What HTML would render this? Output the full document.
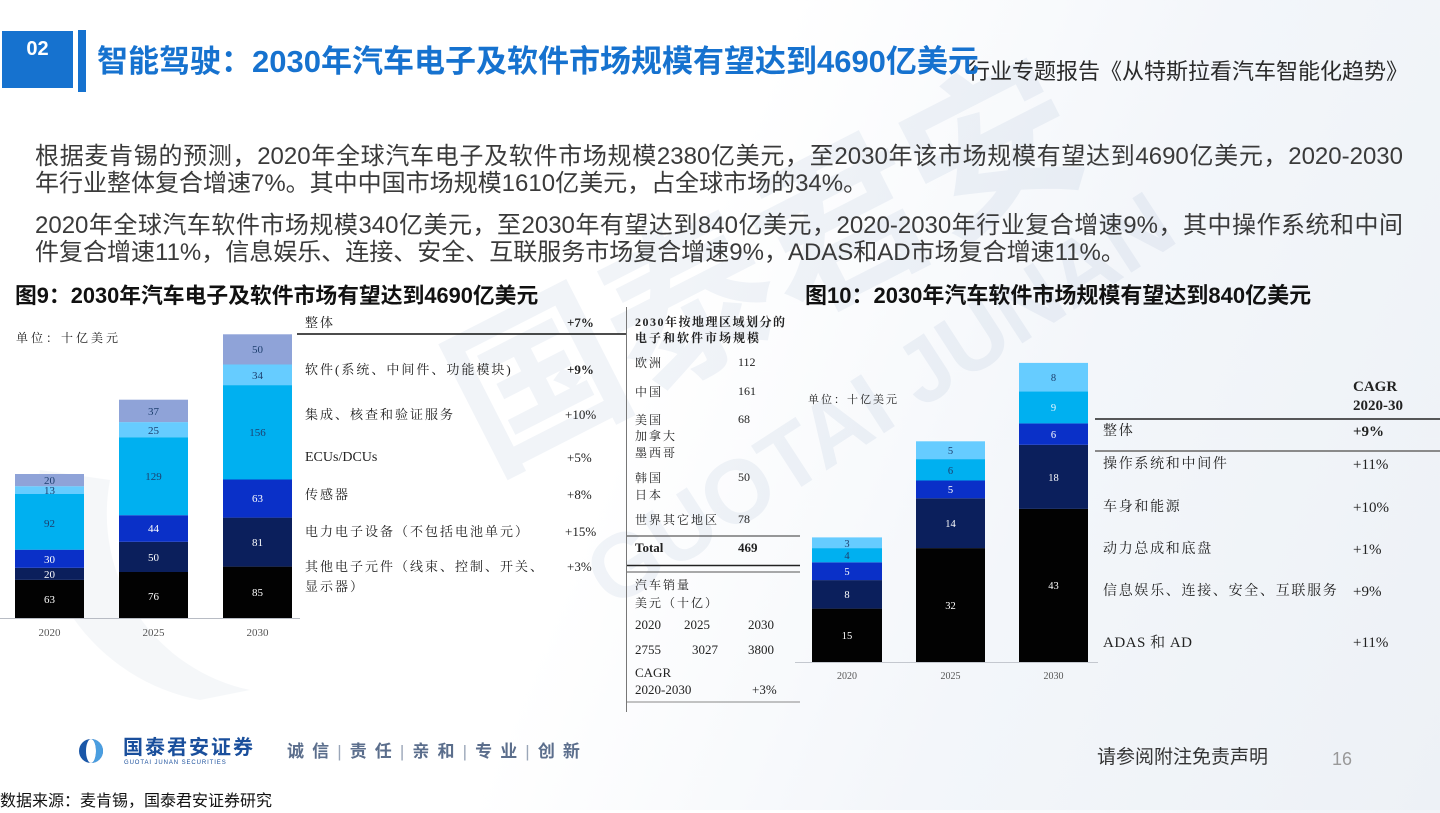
<!DOCTYPE html>
<html lang="zh-CN">
<head>
<meta charset="utf-8">
<style>
html,body{margin:0;padding:0;}
body{width:1440px;height:810px;position:relative;overflow:hidden;
 background:linear-gradient(112deg,#ffffff 0%,#ffffff 45%,#f3f6fa 70%,#edf1f6 100%);
 font-family:"Liberation Sans","Noto Sans CJK SC",sans-serif;}
.abs{position:absolute;white-space:nowrap;}
.sans{font-family:"Liberation Sans","Noto Sans CJK SC",sans-serif;}
.serif{font-family:"Liberation Serif","Noto Serif CJK SC",serif;}
.body{font-size:24px;color:#3a3a3a;line-height:28px;}
.full{width:1368px;text-align:justify;text-align-last:justify;}
.mt{font-size:13px;letter-spacing:2px;color:#222;line-height:16px;}
.gt{font-size:12px;letter-spacing:2px;color:#222;line-height:16px;}
.rt{font-size:14px;letter-spacing:1.7px;color:#222;line-height:18px;}
.num{font-family:"Liberation Serif",serif;letter-spacing:0;color:#222;}
</style>
</head>
<body>

<svg class="abs" style="left:0;top:0" width="1440" height="810" viewBox="0 0 1440 810">
 <!-- watermark -->
 <g fill="rgba(95,130,175,0.09)" font-family="Liberation Sans, Noto Sans CJK SC, sans-serif" font-weight="bold" text-anchor="middle">
  <text x="765" y="325" font-size="170" transform="rotate(-27 765 265)">国泰君安</text>
  <text x="880" y="430" font-size="90" transform="rotate(-33 880 400)">GUOTAI JUNAN</text>
 </g>
 <path d="M40 470 A200 200 0 0 0 200 700 L250 690 A180 180 0 0 1 110 480 Z" fill="rgba(120,140,170,0.07)"/>

 <!-- header -->
 <rect x="2" y="31" width="71" height="57" fill="#1672cf"/>
 <rect x="78" y="30" width="8" height="62" fill="#1672cf"/>

 <!-- left chart axis -->
 <line x1="0" y1="618.5" x2="300" y2="618.5" stroke="#b8bcc4" stroke-width="1"/>
 <g>
  <rect x="15" y="579.9" width="69" height="38.1" fill="#020202"/>
  <rect x="15" y="567.8" width="69" height="12.1" fill="#0b1f5c"/>
  <rect x="15" y="549.7" width="69" height="18.1" fill="#0a30c8"/>
  <rect x="15" y="494" width="69" height="55.7" fill="#00b0f0"/>
  <rect x="15" y="486.2" width="69" height="7.8" fill="#66ccff"/>
  <rect x="15" y="474" width="69" height="12.2" fill="#8fa3d8"/>
 </g>
 <g>
  <rect x="119" y="572" width="69" height="46" fill="#020202"/>
  <rect x="119" y="541.8" width="69" height="30.2" fill="#0b1f5c"/>
  <rect x="119" y="515.2" width="69" height="26.6" fill="#0a30c8"/>
  <rect x="119" y="437.2" width="69" height="78" fill="#00b0f0"/>
  <rect x="119" y="422.1" width="69" height="15.1" fill="#66ccff"/>
  <rect x="119" y="399.7" width="69" height="22.4" fill="#8fa3d8"/>
 </g>
 <g>
  <rect x="223" y="566.6" width="69" height="51.4" fill="#020202"/>
  <rect x="223" y="517.6" width="69" height="49" fill="#0b1f5c"/>
  <rect x="223" y="479.5" width="69" height="38.1" fill="#0a30c8"/>
  <rect x="223" y="385.1" width="69" height="94.4" fill="#00b0f0"/>
  <rect x="223" y="364.5" width="69" height="20.6" fill="#66ccff"/>
  <rect x="223" y="334.3" width="69" height="30.2" fill="#8fa3d8"/>
 </g>
 <g font-family="Liberation Serif, serif" font-size="11" text-anchor="middle">
  <text x="49.5" y="603" fill="#fff">63</text>
  <text x="49.5" y="578" fill="#fff">20</text>
  <text x="49.5" y="563" fill="#fff">30</text>
  <text x="49.5" y="527" fill="#1d3f6e">92</text>
  <text x="49.5" y="494" fill="#1d3f6e">13</text>
  <text x="49.5" y="484" fill="#1d3f6e">20</text>
  <text x="153.5" y="600" fill="#fff">76</text>
  <text x="153.5" y="561" fill="#fff">50</text>
  <text x="153.5" y="532" fill="#fff">44</text>
  <text x="153.5" y="480" fill="#1d3f6e">129</text>
  <text x="153.5" y="434" fill="#1d3f6e">25</text>
  <text x="153.5" y="415" fill="#1d3f6e">37</text>
  <text x="257.5" y="596" fill="#fff">85</text>
  <text x="257.5" y="546" fill="#fff">81</text>
  <text x="257.5" y="502" fill="#fff">63</text>
  <text x="257.5" y="436" fill="#1d3f6e">156</text>
  <text x="257.5" y="379" fill="#1d3f6e">34</text>
  <text x="257.5" y="353" fill="#1d3f6e">50</text>
 </g>
 <g font-family="Liberation Serif, serif" font-size="11" fill="#555" text-anchor="middle">
  <text x="49.5" y="636">2020</text>
  <text x="153.5" y="636">2025</text>
  <text x="257.5" y="636">2030</text>
 </g>

 <!-- middle table lines -->
 <line x1="297" y1="334" x2="627" y2="334" stroke="#111" stroke-width="1.5"/>
 <line x1="626.5" y1="307" x2="626.5" y2="712" stroke="#777" stroke-width="1"/>
 <line x1="627" y1="536" x2="800" y2="536" stroke="#333" stroke-width="1"/>
 <line x1="627" y1="565.5" x2="800" y2="565.5" stroke="#222" stroke-width="1.5"/>
 <line x1="627" y1="572" x2="800" y2="572" stroke="#555" stroke-width="1"/>
 <line x1="627" y1="702" x2="800" y2="702" stroke="#888" stroke-width="1"/>

 <!-- right chart -->
 <line x1="795" y1="662.5" x2="1098" y2="662.5" stroke="#c4c8cf" stroke-width="1"/>
 <g>
  <rect x="812" y="608.6" width="70" height="53.4" fill="#020202"/>
  <rect x="812" y="580.1" width="70" height="28.5" fill="#0b1f5c"/>
  <rect x="812" y="562.3" width="70" height="17.8" fill="#0a30c8"/>
  <rect x="812" y="548.1" width="70" height="14.2" fill="#00b0f0"/>
  <rect x="812" y="537.4" width="70" height="10.7" fill="#66ccff"/>
 </g>
 <g>
  <rect x="916" y="548.1" width="69" height="113.9" fill="#020202"/>
  <rect x="916" y="498.3" width="69" height="49.8" fill="#0b1f5c"/>
  <rect x="916" y="480.5" width="69" height="17.8" fill="#0a30c8"/>
  <rect x="916" y="459.1" width="69" height="21.4" fill="#00b0f0"/>
  <rect x="916" y="441.3" width="69" height="17.8" fill="#66ccff"/>
 </g>
 <g>
  <rect x="1019" y="508.9" width="69" height="153.1" fill="#020202"/>
  <rect x="1019" y="444.8" width="69" height="64.1" fill="#0b1f5c"/>
  <rect x="1019" y="423.4" width="69" height="21.4" fill="#0a30c8"/>
  <rect x="1019" y="391.4" width="69" height="32" fill="#00b0f0"/>
  <rect x="1019" y="362.9" width="69" height="28.5" fill="#66ccff"/>
 </g>
 <g font-family="Liberation Serif, serif" font-size="10.5" text-anchor="middle">
  <text x="847" y="639" fill="#fff">15</text>
  <text x="847" y="598" fill="#fff">8</text>
  <text x="847" y="575" fill="#fff">5</text>
  <text x="847" y="559" fill="#1d3f6e">4</text>
  <text x="847" y="547" fill="#1d3f6e">3</text>
  <text x="950.5" y="609" fill="#fff">32</text>
  <text x="950.5" y="527" fill="#fff">14</text>
  <text x="950.5" y="493" fill="#fff">5</text>
  <text x="950.5" y="474" fill="#1d3f6e">6</text>
  <text x="950.5" y="454" fill="#1d3f6e">5</text>
  <text x="1053.5" y="589" fill="#fff">43</text>
  <text x="1053.5" y="481" fill="#fff">18</text>
  <text x="1053.5" y="438" fill="#fff">6</text>
  <text x="1053.5" y="411" fill="#e8f6ff">9</text>
  <text x="1053.5" y="381" fill="#1d3f6e">8</text>
 </g>
 <g font-family="Liberation Serif, serif" font-size="10" fill="#555" text-anchor="middle">
  <text x="847" y="679">2020</text>
  <text x="950.5" y="679">2025</text>
  <text x="1053.5" y="679">2030</text>
 </g>

 <!-- right table lines -->
 <line x1="1095" y1="419" x2="1440" y2="419" stroke="#222" stroke-width="1.5"/>
 <line x1="1095" y1="451" x2="1440" y2="451" stroke="#8a8a8a" stroke-width="2"/>

 <!-- footer logo -->
 <circle cx="91" cy="751" r="12" fill="#1a57a8"/>
 <ellipse cx="91" cy="751" rx="5" ry="12" fill="#ffffff"/>
 <path d="M91 739 A12 12 0 0 1 91 763 A5 12 0 0 0 91 739 Z" fill="#4a9ee0"/>
</svg>

<!-- header text -->
<div class="abs sans" style="left:2px;top:37px;width:71px;text-align:center;font-size:20px;font-weight:bold;color:#fff;line-height:24px;">02</div>
<div class="abs sans" style="left:968px;top:58px;font-size:22px;color:#2a2a2a;line-height:28px;">行业专题报告《从特斯拉看汽车智能化趋势》</div>
<div class="abs sans" style="left:97px;top:43px;font-size:31px;font-weight:bold;color:#1672cf;line-height:38px;">智能驾驶：2030年汽车电子及软件市场规模有望达到4690亿美元</div>

<!-- body text -->
<div class="abs sans body full" style="left:35px;top:143px;white-space:normal;">根据麦肯锡的预测，2020年全球汽车电子及软件市场规模2380亿美元，至2030年该市场规模有望达到4690亿美元，2020-2030</div>
<div class="abs sans body" style="left:35px;top:170px;">年行业整体复合增速7%。其中中国市场规模1610亿美元，占全球市场的34%。</div>
<div class="abs sans body full" style="left:35px;top:212px;white-space:normal;">2020年全球汽车软件市场规模340亿美元，至2030年有望达到840亿美元，2020-2030年行业复合增速9%，其中操作系统和中间</div>
<div class="abs sans body" style="left:35px;top:239px;">件复合增速11%，信息娱乐、连接、安全、互联服务市场复合增速9%，ADAS和AD市场复合增速11%。</div>

<!-- figure titles -->
<div class="abs sans" style="left:15px;top:282px;font-size:21.8px;font-weight:bold;color:#111;line-height:28px;">图9：2030年汽车电子及软件市场有望达到4690亿美元</div>
<div class="abs sans" style="left:805px;top:282px;font-size:22px;font-weight:bold;color:#111;line-height:28px;">图10：2030年汽车软件市场规模有望达到840亿美元</div>

<!-- left chart unit -->
<div class="abs serif" style="left:16px;top:330px;font-size:12px;letter-spacing:3px;color:#222;line-height:16px;">单位：十亿美元</div>

<!-- middle table -->
<div class="abs serif mt" style="left:305px;top:315px;">整体</div>
<div class="abs mt num" style="left:567px;top:315px;font-weight:bold;">+7%</div>
<div class="abs serif mt" style="left:305px;top:362px;">软件(系统、中间件、功能模块)</div>
<div class="abs mt num" style="left:567px;top:362px;font-weight:bold;">+9%</div>
<div class="abs serif mt" style="left:305px;top:407px;">集成、核查和验证服务</div>
<div class="abs mt num" style="left:565px;top:407px;">+10%</div>
<div class="abs serif mt" style="left:305px;top:450px;letter-spacing:0;font-size:14px;">ECUs/DCUs</div>
<div class="abs mt num" style="left:567px;top:450px;">+5%</div>
<div class="abs serif mt" style="left:305px;top:487px;">传感器</div>
<div class="abs mt num" style="left:567px;top:487px;">+8%</div>
<div class="abs serif mt" style="left:305px;top:524px;">电力电子设备（不包括电池单元）</div>
<div class="abs mt num" style="left:565px;top:524px;">+15%</div>
<div class="abs serif mt" style="left:305px;top:559px;">其他电子元件（线束、控制、开关、</div>
<div class="abs serif mt" style="left:305px;top:579px;">显示器）</div>
<div class="abs mt num" style="left:567px;top:559px;">+3%</div>

<!-- geo table -->
<div class="abs serif gt" style="left:635px;top:314px;font-weight:bold;letter-spacing:1.5px;">2030年按地理区域划分的</div>
<div class="abs serif gt" style="left:635px;top:330px;font-weight:bold;">电子和软件市场规模</div>
<div class="abs serif gt" style="left:635px;top:355px;">欧洲</div>
<div class="abs gt num" style="left:738px;top:354px;">112</div>
<div class="abs serif gt" style="left:635px;top:384px;">中国</div>
<div class="abs gt num" style="left:738px;top:383px;">161</div>
<div class="abs serif gt" style="left:635px;top:412px;">美国</div>
<div class="abs gt num" style="left:738px;top:411px;">68</div>
<div class="abs serif gt" style="left:635px;top:428px;">加拿大</div>
<div class="abs serif gt" style="left:635px;top:445px;">墨西哥</div>
<div class="abs serif gt" style="left:635px;top:470px;">韩国</div>
<div class="abs gt num" style="left:738px;top:469px;">50</div>
<div class="abs serif gt" style="left:635px;top:487px;">日本</div>
<div class="abs serif gt" style="left:635px;top:512px;">世界其它地区</div>
<div class="abs gt num" style="left:738px;top:511px;">78</div>
<div class="abs gt num" style="left:635px;top:540px;font-weight:bold;font-size:13px;">Total</div>
<div class="abs gt num" style="left:738px;top:540px;font-weight:bold;font-size:13px;">469</div>
<div class="abs serif gt" style="left:635px;top:577px;">汽车销量</div>
<div class="abs serif gt" style="left:635px;top:595px;">美元（十亿）</div>
<div class="abs gt num" style="left:635px;top:617px;font-size:13px;">2020</div>
<div class="abs gt num" style="left:684px;top:617px;font-size:13px;">2025</div>
<div class="abs gt num" style="left:748px;top:617px;font-size:13px;">2030</div>
<div class="abs gt num" style="left:635px;top:642px;font-size:13px;">2755</div>
<div class="abs gt num" style="left:692px;top:642px;font-size:13px;">3027</div>
<div class="abs gt num" style="left:748px;top:642px;font-size:13px;">3800</div>
<div class="abs gt num" style="left:635px;top:665px;font-size:13px;">CAGR</div>
<div class="abs gt num" style="left:635px;top:682px;font-size:13px;">2020-2030</div>
<div class="abs gt num" style="left:752px;top:682px;font-size:13px;">+3%</div>

<!-- right chart unit -->
<div class="abs serif" style="left:808px;top:392px;font-size:11px;letter-spacing:2px;color:#222;line-height:16px;">单位：十亿美元</div>

<!-- right table -->
<div class="abs num" style="left:1353px;top:378px;font-size:15px;font-weight:bold;line-height:18px;">CAGR</div>
<div class="abs num" style="left:1353px;top:397px;font-size:15px;font-weight:bold;line-height:18px;">2020-30</div>
<div class="abs serif rt" style="left:1103px;top:423px;">整体</div>
<div class="abs rt num" style="left:1353px;top:423px;font-weight:bold;font-size:15px;">+9%</div>
<div class="abs serif rt" style="left:1103px;top:456px;">操作系统和中间件</div>
<div class="abs rt num" style="left:1353px;top:456px;font-size:15px;">+11%</div>
<div class="abs serif rt" style="left:1103px;top:499px;">车身和能源</div>
<div class="abs rt num" style="left:1353px;top:499px;font-size:15px;">+10%</div>
<div class="abs serif rt" style="left:1103px;top:541px;">动力总成和底盘</div>
<div class="abs rt num" style="left:1353px;top:541px;font-size:15px;">+1%</div>
<div class="abs serif rt" style="left:1103px;top:583px;">信息娱乐、连接、安全、互联服务</div>
<div class="abs rt num" style="left:1353px;top:583px;font-size:15px;">+9%</div>
<div class="abs serif rt" style="left:1103px;top:634px;letter-spacing:0.5px;font-size:15px;">ADAS 和 AD</div>
<div class="abs rt num" style="left:1353px;top:634px;font-size:15px;">+11%</div>

<!-- footer -->
<div class="abs sans" style="left:123px;top:736px;font-size:20px;font-weight:bold;color:#1a4f9c;line-height:24px;letter-spacing:2px;">国泰君安证券</div>
<div class="abs sans" style="left:124px;top:759px;font-size:6px;color:#1a4f9c;line-height:8px;letter-spacing:0.9px;">GUOTAI JUNAN SECURITIES</div>
<div class="abs sans" style="left:287px;top:741px;width:293px;display:flex;justify-content:space-between;font-size:17px;font-weight:bold;color:#5b6e8c;line-height:22px;">
 <span>诚</span><span>信</span><span style="font-weight:normal;color:#9aa6b8">|</span><span>责</span><span>任</span><span style="font-weight:normal;color:#9aa6b8">|</span><span>亲</span><span>和</span><span style="font-weight:normal;color:#9aa6b8">|</span><span>专</span><span>业</span><span style="font-weight:normal;color:#9aa6b8">|</span><span>创</span><span>新</span>
</div>
<div class="abs sans" style="left:1097px;top:746px;font-size:19px;color:#333;line-height:24px;">请参阅附注免责声明</div>
<div class="abs sans" style="left:1332px;top:747px;font-size:18px;color:#999;line-height:24px;">16</div>
<div class="abs sans" style="left:0px;top:791px;font-size:16px;color:#111;line-height:22px;">数据来源：麦肯锡，国泰君安证券研究</div>

</body>
</html>
